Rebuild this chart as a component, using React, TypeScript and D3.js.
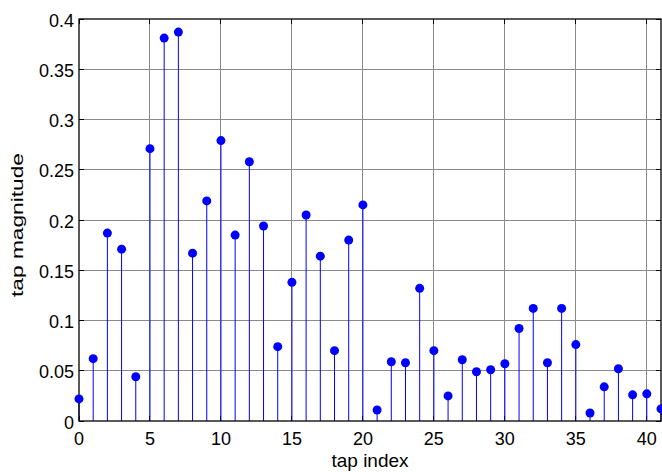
import React, { useRef, useEffect } from 'react';
import * as d3 from 'd3';

// tap indices and their magnitudes
const tapIndex = d3.range(0, 42);
const tapMagnitude = [
  0.022, 0.062, 0.187, 0.171, 0.044, 0.271, 0.381, 0.387, 0.167, 0.219,
  0.279, 0.185, 0.258, 0.194, 0.074, 0.138, 0.205, 0.164, 0.070, 0.180,
  0.215, 0.011, 0.059, 0.058, 0.132, 0.070, 0.025, 0.061, 0.049, 0.051,
  0.057, 0.092, 0.112, 0.058, 0.112, 0.076, 0.008, 0.034, 0.052, 0.026,
  0.027, 0.012,
];
const xTicks = [0, 5, 10, 15, 20, 25, 30, 35, 40];
const yTicks = [0, 0.05, 0.1, 0.15, 0.2, 0.25, 0.3, 0.35, 0.4];

const W = 662;
const H = 472;
const left = 79, right = 661, top = 19, bottom = 421;
const font = '"Liberation Sans", Arial, sans-serif';

const App = () => {
  const svgRef = useRef<SVGSVGElement | null>(null);

  useEffect(() => {
    const svg = d3.select(svgRef.current);
    svg.selectAll('*').remove();

    const x = d3.scaleLinear().domain([0, 41]).range([left, right]);
    const y = d3.scaleLinear().domain([0, 0.4]).range([bottom, top]);

    const fmt = (v: number) => String(+v.toFixed(2));

    // grid
    const grid = svg.append('g')
      .attr('stroke', '#8a8a8a')
      .attr('stroke-width', 1)
      .attr('shape-rendering', 'crispEdges');
    grid.selectAll('line.gx')
      .data(xTicks.filter(t => t > 0))
      .join('line')
      .attr('x1', d => x(d)).attr('x2', d => x(d))
      .attr('y1', top).attr('y2', bottom);
    grid.selectAll('line.gy')
      .data(yTicks.filter(t => t > 0 && t < 0.4))
      .join('line')
      .attr('x1', left).attr('x2', right)
      .attr('y1', d => y(d)).attr('y2', d => y(d));

    // inward ticks on all four sides
    const ticks = svg.append('g')
      .attr('stroke', '#000')
      .attr('stroke-width', 1)
      .attr('shape-rendering', 'crispEdges');
    xTicks.forEach(t => {
      ticks.append('line').attr('x1', x(t)).attr('x2', x(t)).attr('y1', bottom).attr('y2', bottom - 5);
      ticks.append('line').attr('x1', x(t)).attr('x2', x(t)).attr('y1', top).attr('y2', top + 5);
    });
    yTicks.forEach(t => {
      ticks.append('line').attr('x1', left).attr('x2', left + 5).attr('y1', y(t)).attr('y2', y(t));
      ticks.append('line').attr('x1', right).attr('x2', right - 5).attr('y1', y(t)).attr('y2', y(t));
    });

    // stems
    const data = tapIndex.map((i, k) => ({ i, v: tapMagnitude[k] }));
    svg.append('g')
      .selectAll('line')
      .data(data)
      .join('line')
      .attr('x1', d => x(d.i)).attr('x2', d => x(d.i))
      .attr('y1', y(0)).attr('y2', d => y(d.v))
      .attr('stroke', '#0000ff')
      .attr('stroke-width', 1);

    // axes box
    svg.append('rect')
      .attr('x', left).attr('y', top)
      .attr('width', right - left).attr('height', bottom - top)
      .attr('fill', 'none')
      .attr('stroke', '#000')
      .attr('stroke-width', 1.3);

    svg.append('g')
      .selectAll('circle')
      .data(data)
      .join('circle')
      .attr('cx', d => x(d.i))
      .attr('cy', d => y(d.v))
      .attr('r', 4.5)
      .attr('fill', '#0000ff');

    // tick labels
    svg.append('g')
      .selectAll('text')
      .data(xTicks)
      .join('text')
      .attr('x', d => x(d))
      .attr('y', bottom + 24)
      .attr('text-anchor', 'middle')
      .attr('font-family', font)
      .attr('font-size', 18)
      .text(d => d);

    svg.append('g')
      .selectAll('text')
      .data(yTicks)
      .join('text')
      .attr('x', left - 5)
      .attr('y', d => y(d) + 7.5)
      .attr('text-anchor', 'end')
      .attr('font-family', font)
      .attr('font-size', 18)
      .text(d => fmt(d));

    // axis labels
    svg.append('text')
      .attr('x', (left + right) / 2)
      .attr('y', 467)
      .attr('text-anchor', 'middle')
      .attr('font-family', font)
      .attr('font-size', 19)
      .text('tap index');

    svg.append('text')
      .attr('transform', `translate(23, ${(top + bottom) / 2 + 5}) rotate(-90)`)
      .attr('text-anchor', 'middle')
      .attr('font-family', font)
      .attr('font-size', 17)
      .attr('textLength', 144)
      .attr('lengthAdjust', 'spacingAndGlyphs')
      .text('tap magnitude');
  }, []);

  return (
    <svg ref={svgRef} width={W} height={H}
      style={{ position: 'absolute', left: 0, top: 0, background: '#fff' }} />
  );
};

export default App;
